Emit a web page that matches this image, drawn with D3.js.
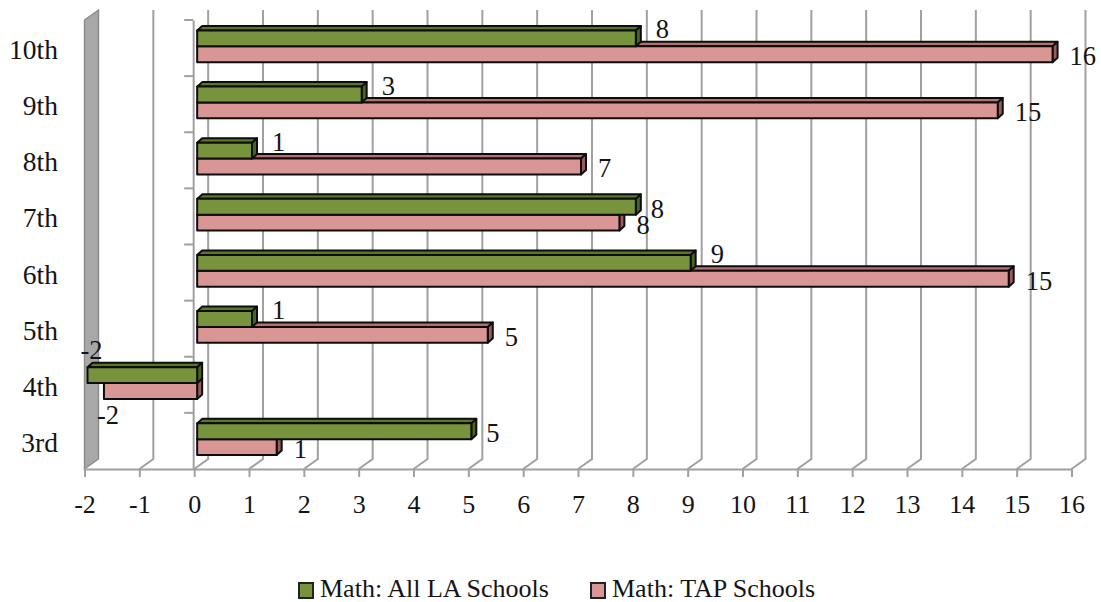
<!DOCTYPE html>
<html>
<head>
<meta charset="utf-8">
<script src="https://cdn.jsdelivr.net/npm/d3@7"></script>
<style>
  html, body { margin: 0; padding: 0; background: #fff; }
  svg { display: block; }
  text { font-family: "Liberation Serif", "Times New Roman", serif; fill: #141414; }
</style>
</head>
<body>
<svg id="chart" width="1101" height="602"></svg>
<script>
// Grade levels, bottom to top
const grades = ["3rd", "4th", "5th", "6th", "7th", "8th", "9th", "10th"];
// Math change by grade
const allLA = [5.0, -2.0, 1.0, 9.0, 8.0, 1.0, 3.0, 8.0];
const tapSchools = [1.45, -1.7, 5.3, 14.8, 7.7, 7.0, 14.6, 15.6];
const seriesNames = ["Math: All LA Schools", "Math: TAP Schools"];
const xTicks = d3.range(-2, 17, 1);

const svg = d3.select("#chart");

// Front plane of the 3D box
const plotTop = 20, plotBottom = 469;
const x = d3.scaleLinear().domain([-2, 16]).range([84.5, 1071.5]);
const y = d3.scaleBand().domain(grades.slice().reverse()).range([plotTop, plotBottom]);

// Depth of the box (oblique projection offset to the back wall)
const depthX = 14, depthY = -10;
// Depth of each bar and its offset within the box
const barDX = 5, barDY = -4.5, barShift = 3;

const gridColor = "#a0a0a0";

// Back wall gridlines with their floor diagonals
svg.append("g").selectAll("path")
  .data(xTicks.filter(t => t > -2))
  .join("path")
  .attr("d", t => `M${x(t)},${plotBottom}L${x(t) + depthX},${plotBottom + depthY}L${x(t) + depthX},${plotTop + depthY}`)
  .attr("fill", "none")
  .attr("stroke", gridColor)
  .attr("stroke-width", 2);

// Side wall on the left
svg.append("path")
  .attr("d", `M${x(-2)},${plotTop}L${x(-2) + depthX},${plotTop + depthY}L${x(-2) + depthX},${plotBottom + depthY}L${x(-2)},${plotBottom}Z`)
  .attr("fill", "#a8a8a8")
  .attr("stroke", "#8a8a8a")
  .attr("stroke-width", 1.4);

// Value axis along the front edge of the floor
const xAxis = d3.axisBottom(x)
  .tickValues(xTicks)
  .tickSize(8)
  .tickPadding(18)
  .tickFormat(d => String(d));
const gx = svg.append("g")
  .attr("transform", `translate(0,${plotBottom})`)
  .call(xAxis);
gx.select(".domain").attr("stroke", gridColor).attr("stroke-width", 2);
gx.selectAll(".tick line").attr("stroke", gridColor).attr("stroke-width", 2);
gx.selectAll(".tick text")
  .attr("font-size", 26)
  .attr("font-family", "Liberation Serif, serif")
  .attr("fill", "#141414");

// Category axis crossing at zero
const yAxis = d3.axisLeft(y).tickSize(0).tickFormat("");
const gy = svg.append("g")
  .attr("transform", `translate(${x(0) - 1},0)`)
  .call(yAxis);
gy.select(".domain").attr("stroke", gridColor).attr("stroke-width", 2);
gy.selectAll(".tick").remove();
svg.append("g").selectAll("line")
  .data(d3.range(grades.length))
  .join("line")
  .attr("x1", x(0) - 10).attr("x2", x(0) - 1)
  .attr("y1", i => plotTop + i * y.bandwidth())
  .attr("y2", i => plotTop + i * y.bandwidth())
  .attr("stroke", gridColor).attr("stroke-width", 2);

// Category labels
svg.append("g").selectAll("text")
  .data(grades)
  .join("text")
  .attr("x", 58)
  .attr("y", g => y(g) + y.bandwidth() / 2 + 11)
  .attr("text-anchor", "end")
  .attr("font-size", 27.5)
  .text(g => g);

// 3D bars
const barH = y.bandwidth() * 0.282;
const barOffset = y.bandwidth() * 0.187;
const series = [
  { name: seriesNames[0], values: allLA, slot: 0, front: "#77933c", top: "#5a7628", side: "#4b6320" },
  { name: seriesNames[1], values: tapSchools, slot: 1, front: "#d99694", top: "#b27270", side: "#9a5c5a" }
];

const rows = grades.map((g, i) => ({ grade: g, a: allLA[i], t: tapSchools[i] }));

function barGeom(value, grade, slot) {
  const x0 = x(Math.min(0, value)) + barShift;
  const x1 = x(Math.max(0, value)) + barShift;
  const top = y(grade) + barOffset + slot * barH;
  return { x0, x1, top, bottom: top + barH };
}

const barLayer = svg.append("g");
rows.forEach((r, i) => {
  // TAP bar first so the All-LA bar covers its top face
  [series[1], series[0]].forEach(s => {
    const v = s.values[i];
    const b = barGeom(v, r.grade, s.slot);
    const g = barLayer.append("g")
      .attr("stroke", "#0d0d0d")
      .attr("stroke-width", 2)
      .attr("stroke-linejoin", "round");
    g.append("path")
      .attr("d", `M${b.x0},${b.top}L${b.x0 + barDX},${b.top + barDY}L${b.x1 + barDX},${b.top + barDY}L${b.x1},${b.top}Z`)
      .attr("fill", s.top);
    g.append("path")
      .attr("d", `M${b.x1},${b.top}L${b.x1 + barDX},${b.top + barDY}L${b.x1 + barDX},${b.bottom + barDY}L${b.x1},${b.bottom}Z`)
      .attr("fill", s.side);
    g.append("rect")
      .attr("x", b.x0).attr("y", b.top)
      .attr("width", b.x1 - b.x0).attr("height", barH)
      .attr("fill", s.front);
  });
});

// Value labels (rounded to whole numbers)
const fmt = v => String(Math.round(v));
const labelLayer = svg.append("g").attr("font-size", 26.5);
rows.forEach((r, i) => {
  series.forEach(s => {
    const v = s.values[i];
    const other = s.slot === 0 ? tapSchools[i] : allLA[i];
    const b = barGeom(v, r.grade, s.slot);
    const cy = (b.top + b.bottom) / 2;
    let lx, ly, anchor = "start";
    if (v < 0) {
      if (s.slot === 0) { lx = b.x0 + 4; ly = b.top - 17; anchor = "middle"; }
      else { lx = b.x0 - 7; ly = b.bottom + 16; }
    } else {
      const raise = s.slot === 0 && Math.abs(other) > Math.abs(v);
      lx = b.x1 + (raise ? 20 : 15);
      if (s.slot === 1) lx = b.x1 + 17;
      ly = cy + (raise ? -9 : 2);
    }
    labelLayer.append("text")
      .attr("x", lx)
      .attr("y", ly + 9)
      .attr("text-anchor", anchor)
      .text(fmt(v));
  });
});

// Legend
const legend = svg.append("g").attr("transform", "translate(299,583)");
const legendItems = [
  { name: seriesNames[0], color: series[0].front, dx: 0 },
  { name: seriesNames[1], color: series[1].front, dx: 292 }
];
legendItems.forEach(it => {
  const lg = legend.append("g").attr("transform", `translate(${it.dx},0)`);
  lg.append("rect")
    .attr("x", 0).attr("y", 0).attr("width", 14).attr("height", 15)
    .attr("fill", it.color).attr("stroke", "#222").attr("stroke-width", 2);
  lg.append("text")
    .attr("x", 21).attr("y", 14)
    .attr("font-size", 26)
    .text(it.name);
});
</script>
</body>
</html>
